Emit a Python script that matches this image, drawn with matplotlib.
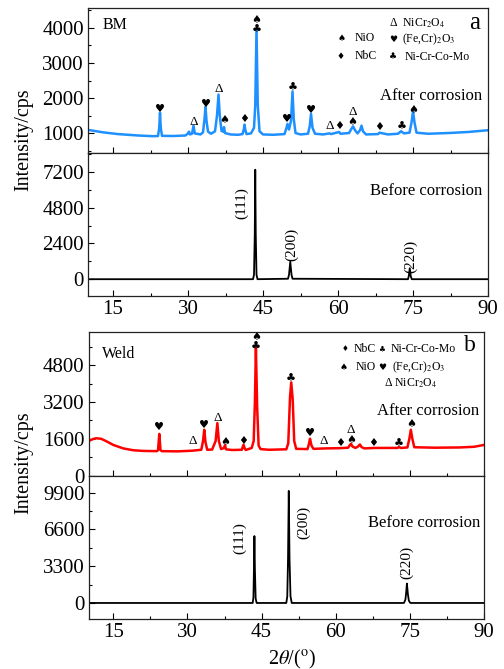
import numpy as np
import matplotlib
matplotlib.use('Agg')
import matplotlib.pyplot as plt
from matplotlib.ticker import MultipleLocator

plt.rcParams['font.family'] = ['Liberation Serif', 'DejaVu Sans']
plt.rcParams['mathtext.fontset'] = 'stix'
plt.rcParams['axes.linewidth'] = 0.9
plt.rcParams['xtick.direction'] = 'in'
plt.rcParams['ytick.direction'] = 'in'

#%% data

# (a) BM, after corrosion
a_after_x = [10, 13, 16, 20, 23, 24.0, 24.25, 24.4, 24.55, 24.8, 27, 29.5, 30.0, 30.2, 30.4, 30.8,
             31.1, 31.35, 32.5, 33.0, 33.3, 33.5, 33.7, 34.0, 34.6, 35.4, 35.8, 36.1, 36.35, 36.7,
             37.0, 37.2, 37.4, 38.5, 40.0, 40.9, 41.15, 41.3, 41.45, 41.7, 42.6, 43.2, 43.45, 43.7,
             43.95, 44.3, 45, 47, 49.3, 49.7, 49.9, 50.2, 50.6, 50.9, 51.15, 51.5, 52.5, 54.0, 54.35,
             54.6, 54.9, 55.4, 57, 58.3, 58.6, 60.2, 60.5, 62.2, 62.6, 63.0, 63.4, 63.9, 64.4, 64.7,
             65.0, 65.6, 68, 68.3, 70, 72.0, 72.6, 73.2, 74.3, 74.7, 75.0, 75.3, 75.7, 78, 82, 86, 90]
a_after_y = [1090, 1020, 970, 930, 910, 915, 1150, 1580, 1150, 920, 915, 930, 990, 1040, 960, 980,
             1210, 990, 960, 1020, 1400, 1750, 1350, 1040, 980, 1050, 1500, 2100, 1500, 1060,
             1040, 1170, 1000, 960, 950, 970, 1100, 1240, 1100, 970, 990, 1150, 1800, 3950,
             1800, 1050, 960, 950, 970, 1150, 1260, 1100, 1350, 2190, 1400, 1000, 960, 980, 1200,
             1550, 1150, 980, 960, 990, 970, 1030, 980, 1000, 1100, 1190, 1080, 990, 1080, 1210,
             1050, 960, 970, 1010, 960, 980, 1050, 990, 1010, 1300, 1620, 1300, 1010, 980, 1000, 1030, 1080]

# (a) BM, before corrosion
a_before_x = [10, 43.0, 43.2, 43.35, 43.45, 43.55, 43.7, 43.9, 50.0, 50.2, 50.45, 50.7, 50.9,
              74.0, 74.15, 74.35, 74.55, 74.75, 90]
a_before_y = [0, 0, 300, 3000, 7350, 3000, 300, 0, 30, 300, 1180, 300, 30,
              0, 200, 740, 200, 0, 0]

# (b) Weld, after corrosion
b_after_x = [10, 10.8, 11.5, 12.5, 13.5, 15, 17, 19, 21, 23.8, 24.05, 24.3, 24.55, 24.8, 28, 31.0,
             32.8, 33.15, 33.4, 33.65, 34.0, 35.0, 35.7, 36.05, 36.35, 36.8, 37.4, 37.6, 37.8, 39,
             41.0, 41.15, 41.35, 41.55, 41.8, 43.0, 43.4, 43.65, 43.85, 44.1, 44.4, 44.8, 46.5, 50.0,
             50.4, 50.75, 51.0, 51.3, 51.6, 52.0, 54.3, 54.55, 54.8, 55.1, 55.5, 58, 60.9, 62.5, 62.9,
             63.1, 63.4, 64.0, 64.5, 64.9, 65.2, 65.8, 68, 72.5, 72.8, 73.2, 74.5, 74.9, 75.2, 75.5,
             75.9, 80, 85, 88, 90]
b_after_y = [1500, 1580, 1620, 1600, 1500, 1330, 1180, 1100, 1070, 1060, 1100, 1810, 1100, 1060, 1050, 1080,
             1120, 1500, 1990, 1450, 1120, 1130, 1500, 2280, 1500, 1150, 1200, 1320, 1140, 1110,
             1120, 1220, 1340, 1200, 1110, 1200, 1500, 3200, 5550, 3000, 1300, 1150, 1120, 1140,
             1400, 3400, 4050, 3300, 1500, 1160, 1150, 1350, 1600, 1300, 1160, 1180, 1190, 1210, 1330,
             1380, 1260, 1200, 1260, 1350, 1240, 1180, 1200, 1200, 1240, 1200, 1220, 1600, 1990, 1600,
             1230, 1210, 1220, 1250, 1330]

# (b) Weld, before corrosion
b_before_x = [10, 43.2, 43.35, 43.45, 43.55, 43.65, 43.8, 44.0, 50.0, 50.2, 50.35, 50.5, 50.65, 50.85,
              51.1, 73.8, 74.1, 74.25, 74.4, 74.6, 74.8, 75.1, 90]
b_before_y = [0, 0, 500, 3000, 6000, 3000, 400, 0, 0, 600, 4000, 10050, 4000, 600,
              0, 0, 300, 900, 1740, 800, 200, 0, 0]

# phase marks above the peaks: (2theta, intensity, symbol)
a_marks = [(24.4, 1686, '♥'), (31.1, 1303, 'Δ'), (33.5, 1829, '♥'), (36.1, 2257, 'Δ'),
           (37.2, 1360, '♠'), (41.3, 1400, '♦'), (43.7, 4237, '♠'), (43.7, 3951, '♣'),
           (49.8, 1400, '♥'), (50.9, 2286, '♣'), (54.6, 1657, '♥'), (58.3, 1190, 'Δ'),
           (60.2, 1190, '♦'), (62.9, 1303, '♠'), (62.9, 1590, 'Δ'), (68.2, 1160, '♦'),
           (72.7, 1160, '♣'), (75.1, 1666, '♠')]
b_marks = [(24.3, 2105, '♥'), (31.1, 1495, 'Δ'), (33.4, 2180, '♥'), (36.1, 2500, 'Δ'),
           (37.6, 1452, '♠'), (41.3, 1495, '♦'), (43.9, 6030, '♠'), (43.9, 5594, '♣'),
           (50.9, 4214, '♣'), (54.8, 1846, '♥'), (57.5, 1495, 'Δ'), (60.9, 1410, '♦'),
           (63.1, 1962, 'Δ'), (63.1, 1526, '♠'), (67.6, 1410, '♦'), (72.8, 1380, '♣'),
           (75.2, 2223, '♠')]

# crystal plane labels of the substrate: (2theta, intensity, text)
a_planes = [(40.8, 5100, '(111)'), (50.7, 2300, '(200)'), (74.5, 1510, '(220)')]
b_planes = [(40.6, 5850, '(111)'), (53.6, 7200, '(200)'), (74.3, 3600, '(220)')]

#%% figure

fig = plt.figure(figsize=(5.04, 6.69), dpi=100)

ax_a1 = fig.add_axes([0.1746, 0.7713, 0.7937, 0.2167])
ax_a2 = fig.add_axes([0.1746, 0.5575, 0.7937, 0.2138])
ax_b1 = fig.add_axes([0.1758, 0.2892, 0.7845, 0.2145])
ax_b2 = fig.add_axes([0.1758, 0.0747, 0.7845, 0.2145])

ax_a1.plot(a_after_x, a_after_y, color='#1E90FF', lw=1.8)
ax_a2.plot(a_before_x, a_before_y, color='black', lw=1.3)
ax_b1.plot(b_after_x, b_after_y, color='#FF0000', lw=1.8)
ax_b2.plot(b_before_x, b_before_y, color='black', lw=1.3)

ax_a1.set_ylim(430, 4570)
ax_a2.set_ylim(-1130, 8470)
ax_b1.set_ylim(0, 6240)
ax_b2.set_ylim(-1440, 11430)

ax_a1.yaxis.set_major_locator(MultipleLocator(1000))
ax_a1.yaxis.set_minor_locator(MultipleLocator(500))
ax_a2.yaxis.set_major_locator(MultipleLocator(2400))
ax_a2.yaxis.set_minor_locator(MultipleLocator(1200))
ax_b1.yaxis.set_major_locator(MultipleLocator(1600))
ax_b1.yaxis.set_minor_locator(MultipleLocator(800))
ax_b2.yaxis.set_major_locator(MultipleLocator(3300))
ax_b2.yaxis.set_minor_locator(MultipleLocator(1650))

for ax in [ax_a1, ax_a2, ax_b1, ax_b2]:
    ax.set_xlim(10, 90)
    ax.xaxis.set_major_locator(MultipleLocator(15))
    ax.xaxis.set_minor_locator(MultipleLocator(7.5))
    ax.tick_params(which='major', length=4.5, width=0.8, labelsize=15, pad=3)
    ax.tick_params(which='minor', length=2.5, width=0.8)
    ax.tick_params(axis='x', top=False)
    ax.tick_params(axis='y', right=False)
    for s in ax.spines.values():
        s.set_color('#222222')

for ax in [ax_a1, ax_b1]:
    ax.tick_params(axis='x', labelbottom=False)

# the "0" of the upper weld plot sits a bit higher, as in the source
ax_b1.get_yticklabels()  # force tick creation
ax_b1.tick_params(axis='y', pad=3)

# phase marks
for ax, marks in [(ax_a1, a_marks), (ax_b1, b_marks)]:
    for x, y, s in marks:
        if s == 'Δ':
            ax.text(x, y, s, fontsize=9.5, ha='center', va='center', family='Liberation Serif')
        else:
            ax.text(x, y, s, fontsize=8, ha='center', va='center', family='DejaVu Sans')

for ax, planes in [(ax_a2, a_planes), (ax_b2, b_planes)]:
    for x, y, s in planes:
        ax.text(x, y, s, fontsize=11, rotation=90, ha='center', va='center')

# panel texts
ax_a1.text(0.0375, 0.883, 'BM', transform=ax_a1.transAxes, fontsize=11.5, va='center')
ax_a1.text(0.98, 0.90, 'a', transform=ax_a1.transAxes, fontsize=18, ha='right', va='center')
ax_a1.text(0.985, 0.39, 'After corrosion', transform=ax_a1.transAxes, fontsize=12, ha='right', va='center')
ax_a2.text(0.985, 0.734, 'Before corrosion', transform=ax_a2.transAxes, fontsize=12, ha='right', va='center')

ax_b1.text(0.034, 0.847, 'Weld', transform=ax_b1.transAxes, fontsize=11.5, va='center')
ax_b1.text(0.98, 0.909, 'b', transform=ax_b1.transAxes, fontsize=17, ha='right', va='center')
ax_b1.text(0.987, 0.45, 'After corrosion', transform=ax_b1.transAxes, fontsize=12, ha='right', va='center')
ax_b2.text(0.99, 0.669, 'Before corrosion', transform=ax_b2.transAxes, fontsize=12, ha='right', va='center')

# phase keys
lg = 8.5
sy = 6.5
ax_a1.text(0.7525, 0.897, 'Δ  NiCr$_2$O$_4$', transform=ax_a1.transAxes, fontsize=lg, va='center')
ax_a1.text(0.635, 0.79, '♠', transform=ax_a1.transAxes, fontsize=sy, ha='center', va='center', family='DejaVu Sans')
ax_a1.text(0.6675, 0.79, 'NiO', transform=ax_a1.transAxes, fontsize=lg, va='center')
ax_a1.text(0.7625, 0.786, '♥', transform=ax_a1.transAxes, fontsize=sy, ha='center', va='center', family='DejaVu Sans')
ax_a1.text(0.785, 0.786, '(Fe,Cr)$_2$O$_3$', transform=ax_a1.transAxes, fontsize=lg, va='center')
ax_a1.text(0.6325, 0.669, '♦', transform=ax_a1.transAxes, fontsize=sy, ha='center', va='center', family='DejaVu Sans')
ax_a1.text(0.6675, 0.669, 'NbC', transform=ax_a1.transAxes, fontsize=lg, va='center')
ax_a1.text(0.7625, 0.662, '♣', transform=ax_a1.transAxes, fontsize=sy, ha='center', va='center', family='DejaVu Sans')
ax_a1.text(0.7925, 0.662, 'Ni-Cr-Co-Mo', transform=ax_a1.transAxes, fontsize=lg, va='center')

ax_b1.text(0.648, 0.882, '♦', transform=ax_b1.transAxes, fontsize=sy - 1, ha='center', va='center', family='DejaVu Sans')
ax_b1.text(0.671, 0.882, 'NbC', transform=ax_b1.transAxes, fontsize=lg, va='center')
ax_b1.text(0.742, 0.882, '♣', transform=ax_b1.transAxes, fontsize=sy - 1, ha='center', va='center', family='DejaVu Sans')
ax_b1.text(0.765, 0.882, 'Ni-Cr-Co-Mo', transform=ax_b1.transAxes, fontsize=lg, va='center')
ax_b1.text(0.646, 0.756, '♠', transform=ax_b1.transAxes, fontsize=sy, ha='center', va='center', family='DejaVu Sans')
ax_b1.text(0.676, 0.756, 'NiO', transform=ax_b1.transAxes, fontsize=lg, va='center')
ax_b1.text(0.742, 0.756, '♥', transform=ax_b1.transAxes, fontsize=sy, ha='center', va='center', family='DejaVu Sans')
ax_b1.text(0.767, 0.756, '(Fe,Cr)$_2$O$_3$', transform=ax_b1.transAxes, fontsize=lg, va='center')
ax_b1.text(0.747, 0.645, 'Δ NiCr$_2$O$_4$', transform=ax_b1.transAxes, fontsize=lg, va='center')

# axis labels
fig.text(24 / 504, 1 - 140 / 669, 'Intensity/cps', rotation=90, fontsize=14.5, ha='center', va='center')
fig.text(24 / 504, 1 - 463 / 669, 'Intensity/cps', rotation=90, fontsize=14.5, ha='center', va='center')
fig.text(292 / 504, 1 - 659 / 669, r'2$\theta$/($^{\rm o}$)', fontsize=14.5, ha='center', va='center')

plt.savefig('out.png', dpi=100)
